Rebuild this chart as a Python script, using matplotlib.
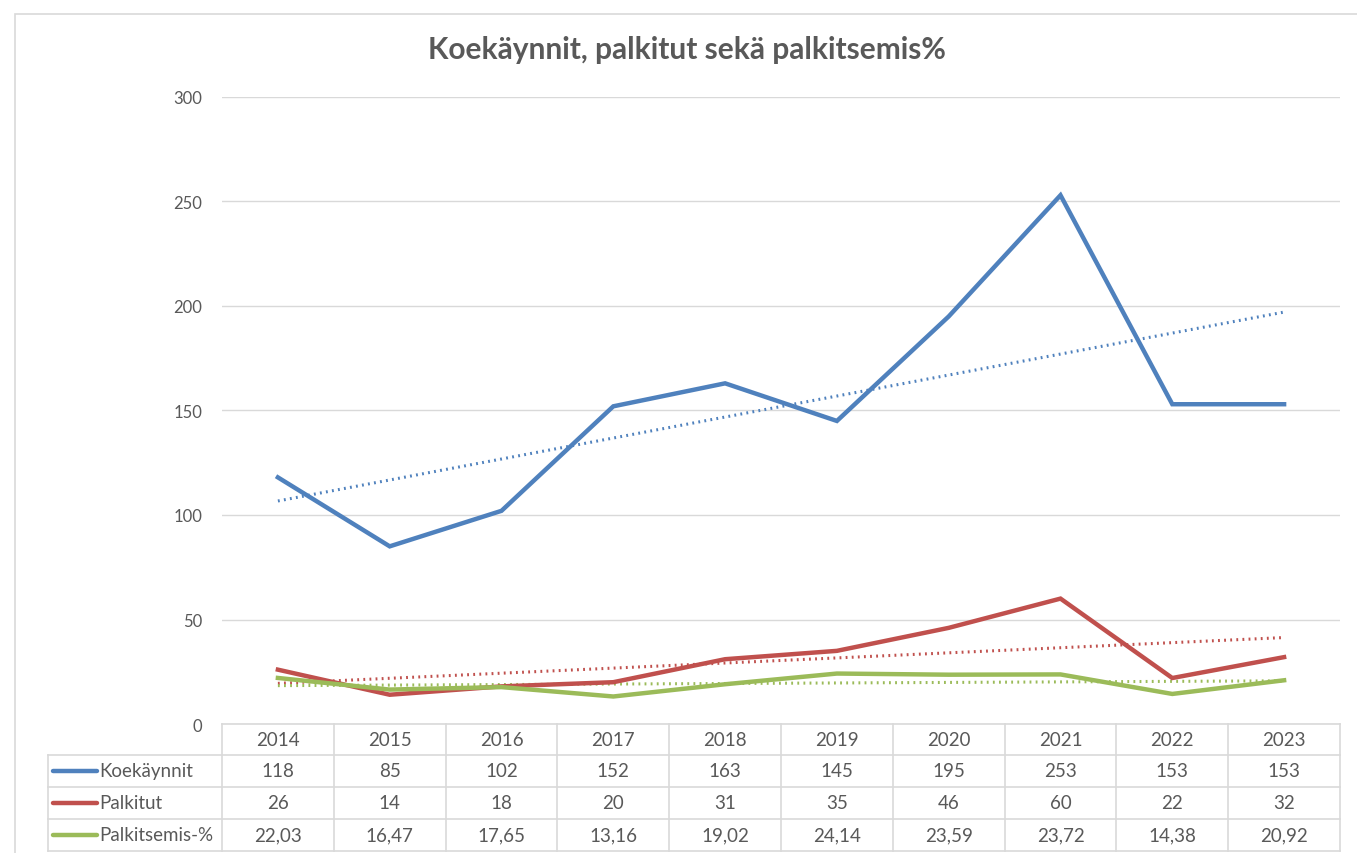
import numpy as np
import matplotlib.pyplot as plt
from matplotlib.patches import Rectangle
from matplotlib.lines import Line2D

plt.rcParams['font.family'] = ['Lato', 'DejaVu Sans']

vuodet = ['2014', '2015', '2016', '2017', '2018', '2019', '2020', '2021', '2022', '2023']
koekaynnit = [118, 85, 102, 152, 163, 145, 195, 253, 153, 153]
palkitut = [26, 14, 18, 20, 31, 35, 46, 60, 22, 32]
palkitsemis = [22.03, 16.47, 17.65, 13.16, 19.02, 24.14, 23.59, 23.72, 14.38, 20.92]

sarjat = [('Koekäynnit', koekaynnit, '#4F81BD', '{:d}'),
          ('Palkitut', palkitut, '#C0504D', '{:d}'),
          ('Palkitsemis-%', palkitsemis, '#9BBB59', '{:.2f}')]

W, H = 1357, 854
fig = plt.figure(figsize=(W / 100, H / 100), dpi=100)

# chart border
fig.patches.append(Rectangle((15 / W, -0.01), 1.1, 1 - 15 / H + 0.01, transform=fig.transFigure,
                             fill=False, edgecolor='#D9D9D9', linewidth=1.2))

# plot area in pixels
x0, x1, ytop, ybot = 222, 1340, 98, 725
ax = fig.add_axes([x0 / W, 1 - ybot / H, (x1 - x0) / W, (ybot - ytop) / H])
x = np.arange(len(vuodet))
for nimi, arvot, vari, _ in sarjat:
    ax.plot(x, arvot, color=vari, linewidth=3.2, solid_joinstyle='miter', zorder=3)
    k, b = np.polyfit(x, arvot, 1)
    ax.plot(x, k * x + b, color=vari, linewidth=2.2, linestyle=(0, (0.6, 1.4)), zorder=2)

ax.set_xlim(-0.5, len(vuodet) - 0.5)
ax.set_ylim(0, 300)
ax.set_yticks(range(0, 301, 50))
ax.grid(axis='y', color='#D9D9D9', linewidth=1)
ax.set_axisbelow(True)
ax.set_xticks([])
for s in ax.spines.values():
    s.set_visible(False)
ax.tick_params(axis='y', length=0, pad=14, labelsize=12, labelcolor='#595959')

fig.text(687 / W, 1 - 50 / H, 'Koekäynnit, palkitut sekä palkitsemis%',
         ha='center', va='center', fontsize=21.5, fontweight='bold', color='#595959')

# data table
tx0 = 48
cell = (x1 - x0) / len(vuodet)
rows = [725, 756, 788, 820, 852]
tab = fig.add_axes([0, 0, 1, 1], facecolor='none')
tab.set_xlim(0, W)
tab.set_ylim(H, 0)
tab.axis('off')
gc = '#D9D9D9'
# horizontal lines
tab.plot([x0, x1], [rows[0], rows[0]], color=gc, lw=1.2)
for r in rows[1:]:
    tab.plot([tx0, x1], [r, r], color=gc, lw=1.2)
# vertical lines
tab.plot([tx0, tx0], [rows[1], rows[-1]], color=gc, lw=1.2)
for i in range(len(vuodet) + 1):
    xx = x0 + i * cell
    tab.plot([xx, xx], [rows[0], rows[-1]], color=gc, lw=1.2)

tc = '#595959'
fs = 13.5
for i, v in enumerate(vuodet):
    tab.text(x0 + (i + 0.5) * cell, (rows[0] + rows[1]) / 2, v, ha='center', va='center',
             fontsize=fs, color=tc)
for j, (nimi, arvot, vari, fmt) in enumerate(sarjat):
    yc = (rows[j + 1] + rows[j + 2]) / 2
    tab.add_line(Line2D([53, 97], [yc, yc], color=vari, lw=3.2, solid_capstyle='round'))
    tab.text(99, yc, nimi, ha='left', va='center', fontsize=fs, color=tc)
    for i, a in enumerate(arvot):
        txt = fmt.format(a).replace('.', ',')
        tab.text(x0 + (i + 0.5) * cell, yc, txt, ha='center', va='center', fontsize=fs, color=tc)

fig.savefig('out.png', dpi=100)
